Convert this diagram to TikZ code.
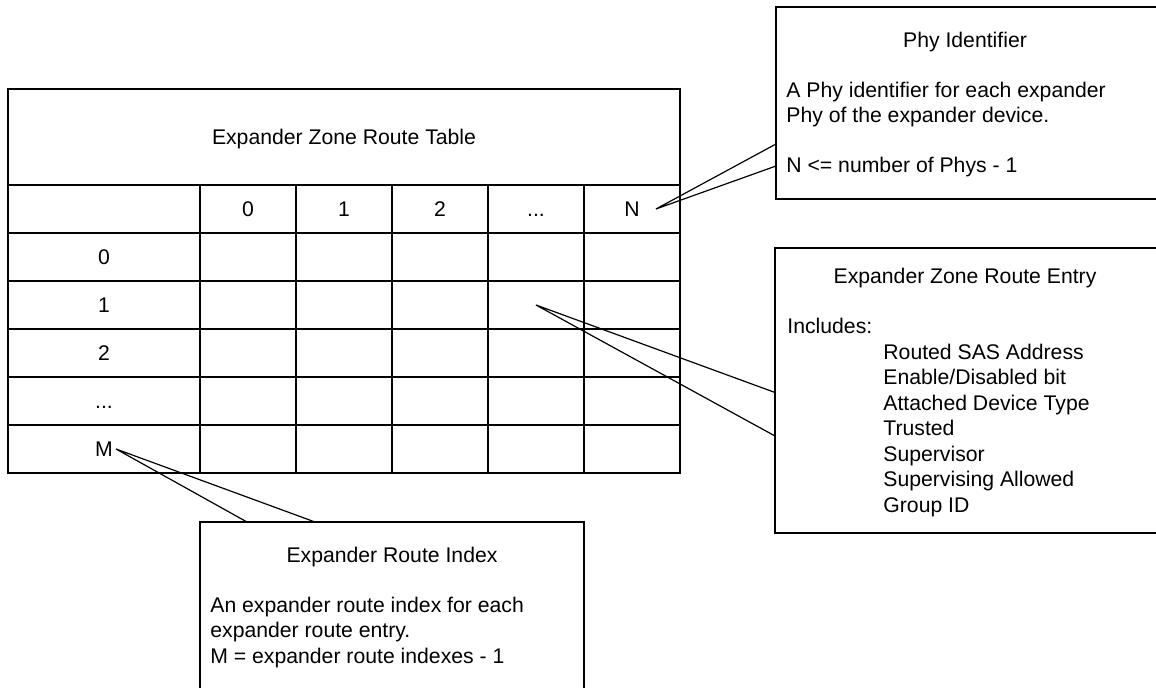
\documentclass[tikz,border=0pt]{standalone}
\usepackage{fontspec}
\setmainfont{Liberation Sans}
\usetikzlibrary{fit}
\begin{document}
\begin{tikzpicture}[x=0.5pt,y=-0.5pt,
  txt/.style={inner sep=0pt, font=\fontsize{10.6}{12.75}\selectfont},
  ctr/.style={txt, anchor=base},
  lft/.style={txt, anchor=base west},
  box/.style={draw, line width=0.55pt, inner sep=0pt},
  ln/.style={line width=0.55pt},
  callout/.style={line width=0.6pt}]
\clip (0,0) rectangle (1156,688);
% ---------- table ----------
\node[box, fit={(8,89) (680,473)}] (tbl) {};
\draw[ln] (8,185) -- (680,185);
\foreach \y in {233,281,329,377,425} \draw[ln] (8,\y) -- (680,\y);
\foreach \x in {200,296,392,488,584} \draw[ln] (\x,185) -- (\x,473);
\node[ctr] (ttitle) at (344,144.5) {Expander Zone Route Table};
\node[ctr] (h0) at (248,216.5) {0};
\node[ctr] (h1) at (344,216.5) {1};
\node[ctr] (h2) at (440,216.5) {2};
\node[ctr] (hd) at (536,216.5) {...};
\node[ctr] (hN) at (632,216.5) {N};
\node[ctr] (r0) at (104,264.5) {0};
\node[ctr] (r1) at (104,312.5) {1};
\node[ctr] (r2) at (104,360.5) {2};
\node[ctr] (rd) at (104,408.5) {...};
\node[ctr] (rM) at (104,456.5) {M};
% ---------- Phy Identifier ----------
\node[box, fit={(776,7) (1162,199)}] (phy) {};
\node[ctr] (phyt) at (965,48) {Phy Identifier};
\node[lft] (phy1) at (786,98) {A Phy identifier for each expander};
\node[lft] (phy2) at (786,123) {Phy of the expander device.};
\node[lft] (phy3) at (786,173) {N <= number of Phys - 1};
% ---------- Expander Zone Route Entry ----------
\node[box, fit={(775,248) (1162,533)}] (ent) {};
\node[ctr] (entt) at (965,283.5) {Expander Zone Route Entry};
\node[lft] (inc) at (787,333.5) {Includes:};
\node[lft] (e1) at (883,359.5) {Routed SAS Address};
\node[lft] (e2) at (883,385) {Enable/Disabled bit};
\node[lft] (e3) at (883,410.5) {Attached Device Type};
\node[lft] (e4) at (883,436) {Trusted};
\node[lft] (e5) at (883,461.5) {Supervisor};
\node[lft] (e6) at (883,487) {Supervising Allowed};
\node[lft] (e7) at (883,512.5) {Group ID};
% ---------- Expander Route Index ----------
\node[box, fit={(200,522) (584,700)}] (idx) {};
\node[ctr] (idxt) at (392,562.5) {Expander Route Index};
\node[lft] (idx1) at (210,612.5) {An expander route index for each};
\node[lft] (idx2) at (210,637.5) {expander route entry.};
\node[lft] (idx3) at (210,663.5) {M = expander route indexes - 1};
% ---------- callouts ----------
\coordinate (tipN) at (656,209);
\coordinate (phyA) at (776,144);
\coordinate (phyB) at (776,166);
\draw[callout] (phyA) -- (tipN) -- (phyB);
\coordinate (tipE) at (536,305);
\coordinate (entA) at (775,392.5);
\coordinate (entB) at (775,436);
\draw[callout] (entA) -- (tipE) -- (entB);
\coordinate (tipM) at (116,449);
\coordinate (idxA) at (247,522);
\coordinate (idxB) at (315,522);
\draw[callout] (idxA) -- (tipM) -- (idxB);
\end{tikzpicture}
\end{document}
